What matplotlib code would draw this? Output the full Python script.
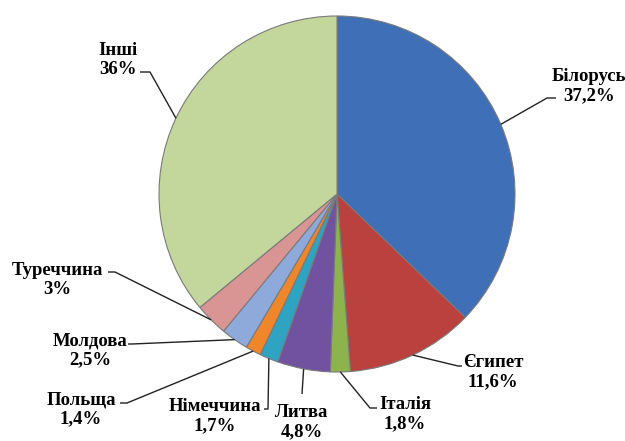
import numpy as np
import matplotlib
matplotlib.use("Agg")
import matplotlib.pyplot as plt

countries = ["Білорусь", "Єгипет", "Італія", "Литва", "Німеччина",
             "Польща", "Молдова", "Туреччина", "Інші"]
shares = [37.2, 11.6, 1.8, 4.8, 1.7, 1.4, 2.5, 3.0, 36.0]
share_labels = ["37,2%", "11,6%", "1,8%", "4,8%", "1,7%", "1,4%", "2,5%", "3%", "36%"]

colors = ["#3f6fb6", "#bb413e", "#8db34c", "#7152a0", "#2ea3c2",
          "#f0862a", "#8eaadb", "#d99594", "#c3d69b"]

W, H = 625, 441
fig = plt.figure(figsize=(W / 100, H / 100), dpi=100)
ax = fig.add_axes([0, 0, 1, 1])
ax.set_xlim(0, W)
ax.set_ylim(0, H)
ax.set_aspect("equal")
ax.axis("off")

cx, cy, R = 337, H - 194, 178
wedges, _ = ax.pie(shares, colors=colors, startangle=90, counterclock=False,
                   center=(cx, cy), radius=R, frame=True,
                   wedgeprops=dict(edgecolor="#7a7a7a", linewidth=0.8))
ax.set_xlim(0, W)
ax.set_ylim(0, H)
ax.axis("off")

# label layout (pixel coords, y from top): elbow, shelf end, text centre
elbows = [(547, 98), (458, 366), (370, 408), (302, 394), (268, 409),
          (127, 403), (132, 344), (115, 272), (150, 72)]
shelves = [(556, 98), (462, 366), (377, 408), (302, 394), (264, 409),
           (120, 403), (128, 344), (108, 272), (140, 72)]
text_pos = [(589, 86), (493, 372), (405, 414), (302, 422), (215, 416),
            (81, 409), (90, 350), (57, 280), (118, 60)]

font = dict(family="Liberation Serif", weight="bold", size=13.5, color="black")

for w, name, lab, el, sh, tp in zip(wedges, countries, share_labels,
                                    elbows, shelves, text_pos):
    ang = np.deg2rad((w.theta1 + w.theta2) / 2)
    ex, ey = cx + R * np.cos(ang), cy + R * np.sin(ang)
    xs = [ex, el[0], sh[0]]
    ys = [ey, H - el[1], H - sh[1]]
    ax.plot(xs, ys, color="#222222", linewidth=1.0, solid_capstyle="butt")
    ax.text(tp[0], H - tp[1], f"{name}\n{lab}", ha="center", va="center",
            linespacing=1.15, **font)

fig.savefig("out.png", dpi=100)
